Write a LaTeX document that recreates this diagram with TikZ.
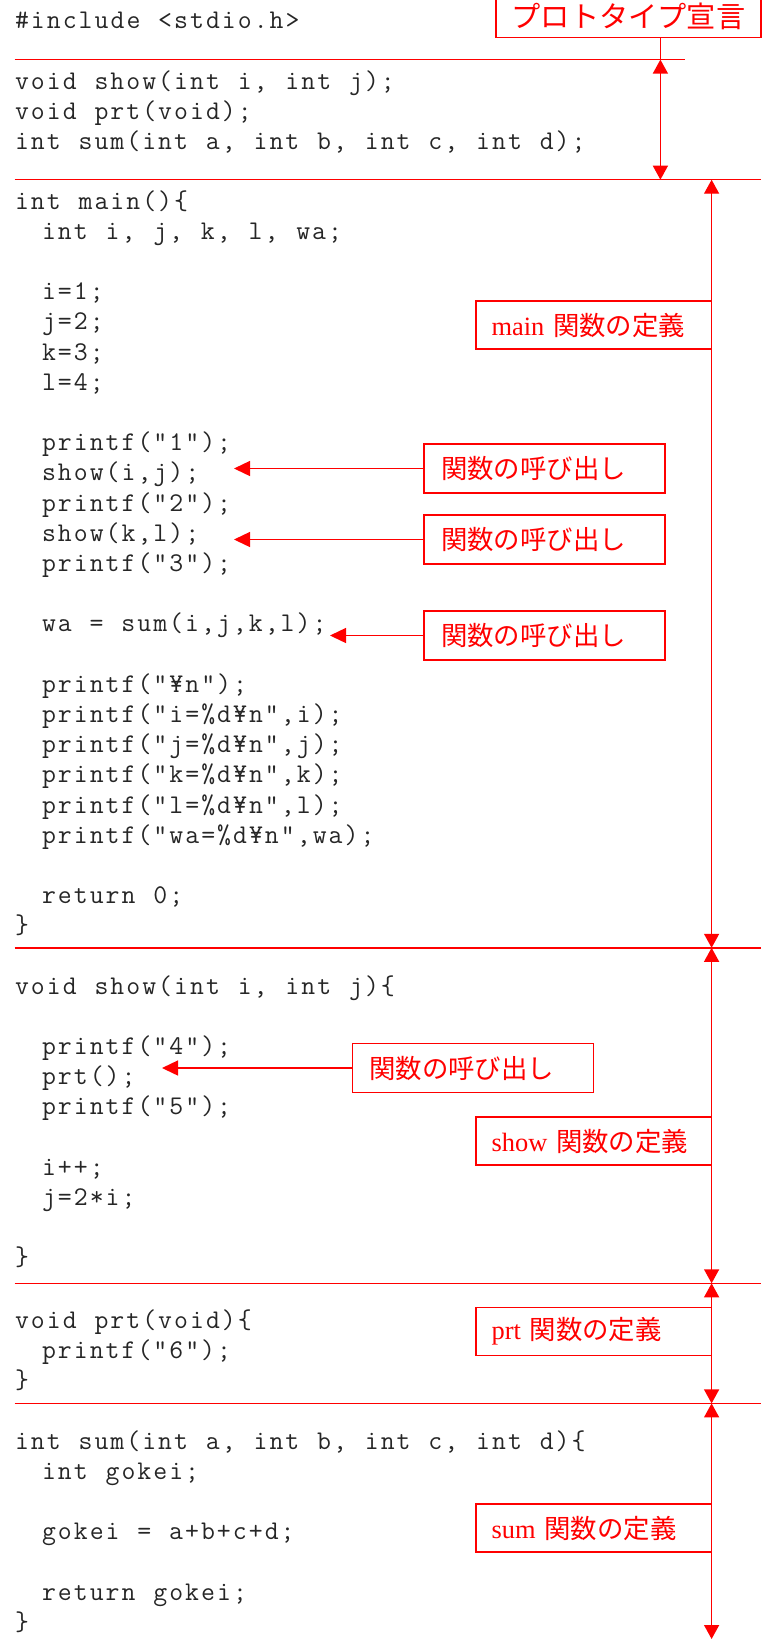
\documentclass[tikz,border=0pt]{standalone}
\usepackage{fontspec}
\setmainfont{Liberation Serif}
\newfontfamily\codefont{Latin Modern Mono}[LetterSpace=7.5,WordSpace=1.12]
\newfontfamily\jpfont{Noto Sans CJK JP}
\usetikzlibrary{arrows.meta, positioning, calc}

\newcommand{\ind}{\hspace*{13.5pt}}

\begin{document}
\begin{tikzpicture}[x=0.5pt,y=-0.5pt,
  code/.style={anchor=base west,inner sep=0pt,align=left,text=black!85,font=\codefont\fontsize{13.5pt}{15.1pt}\selectfont},
  sep/.style={red,line width=0.7pt},
  defbox/.style={draw=red,line width=0.7pt,text=red,font=\fontsize{13.2pt}{15pt}\selectfont,text width=102pt,inner xsep=7.9pt,minimum height=24pt,align=left},
  callbox/.style={draw=red,line width=0.7pt,text=red,font=\jpfont\fontsize{13.2pt}{15pt}\selectfont,text width=103.5pt,inner xsep=8.5pt,minimum height=24.5pt,align=left},
  arr/.style={-{Triangle[length=8pt,width=7.5pt]},red,line width=0.7pt},
  dbl/.style={{Triangle[length=7pt,width=7.5pt]}-{Triangle[length=7pt,width=7.5pt]},red,line width=0.7pt}]
  \useasboundingbox (0,0) rectangle (765,1639);

  \node[code] (inc) at (14.6,28) {\#include <stdio.h>};
  \node[code] (proto-code) at (14.6,149.4) {void show(int i, int j);\\void prt(void);\\int sum(int a, int b, int c, int d);};
  \node[code] (main-code) at (14.6,933.8) {int main()\{\\
    \ind int i, j, k, l, wa;\\
    \mbox{}\\
    \ind i=1;\\
    \ind j=2;\\
    \ind k=3;\\
    \ind l=4;\\
    \mbox{}\\
    \ind printf("1");\\
    \ind show(i,j);\\
    \ind printf("2");\\
    \ind show(k,l);\\
    \ind printf("3");\\
    \mbox{}\\
    \ind wa = sum(i,j,k,l);\\
    \mbox{}\\
    \ind printf("¥n");\\
    \ind printf("i=\%d¥n",i);\\
    \ind printf("j=\%d¥n",j);\\
    \ind printf("k=\%d¥n",k);\\
    \ind printf("l=\%d¥n",l);\\
    \ind printf("wa=\%d¥n",wa);\\
    \mbox{}\\
    \ind return 0;\\
    \}};
  \node[code] (show-code) at (14.6,1265.8) {void show(int i, int j)\{\\
    \mbox{}\\
    \ind printf("4");\\
    \ind prt();\\
    \ind printf("5");\\
    \mbox{}\\
    \ind i++;\\
    \ind j=2*i;\\
    \mbox{}\\
    \}};
  \node[code] (prt-code) at (14.6,1388.4) {void prt(void)\{\\
    \ind printf("6");\\
    \}};
  \node[code] (sum-code) at (14.6,1630.2) {int sum(int a, int b, int c, int d)\{\\
    \ind int gokei;\\
    \mbox{}\\
    \ind gokei = a+b+c+d;\\
    \mbox{}\\
    \ind return gokei;\\
    \}};

  \draw[sep] (14.6,59.6) -- (684.5,59.6);
  \foreach \y in {179.7,947.8,1283.3,1403.4}{\draw[sep] (14.6,\y) -- (761,\y);}

  \coordinate (p1) at (660.4,59.6);
  \coordinate (p2) at (660.4,179.7);
  \coordinate (m1) at (711.6,179.7);
  \coordinate (m2) at (711.6,947.8);
  \coordinate (m3) at (711.6,1283.3);
  \coordinate (m4) at (711.6,1403.4);
  \coordinate (m5) at (711.6,1639);

  \node[draw=red,line width=0.7pt,text=red,font=\jpfont\fontsize{14.6pt}{16pt}\selectfont,minimum width=132.5pt,minimum height=21.6pt,inner ysep=1pt] (proto) at (628.5,16) {プロトタイプ宣言};
  \draw[sep] (proto.south -| p1) -- (p1);
  \draw[dbl] (p1) -- (p2);
  \foreach \a/\b in {m1/m2,m2/m3,m3/m4,m4/m5}{\draw[dbl] (\a) -- (\b);}

  \node[defbox] (d-main) at (593.6,325) {main {\jpfont 関数の定義}};
  \node[defbox] (d-show) at (593.6,1141) {show {\jpfont 関数の定義}};
  \node[defbox] (d-prt) at (593.6,1331.5) {prt {\jpfont 関数の定義}};
  \node[defbox] (d-sum) at (593.6,1528) {sum {\jpfont 関数の定義}};

  \node[callbox] (c1) at (544.5,468.5) {関数の呼び出し};
  \node[callbox] (c2) at (544.5,539.5) {関数の呼び出し};
  \node[callbox] (c3) at (544.5,635.5) {関数の呼び出し};
  \node[callbox] (c4) at (472.8,1068) {関数の呼び出し};
  \coordinate (t1) at (234,468.5);
  \coordinate (t2) at (234,539.5);
  \coordinate (t3) at (330,635.5);
  \coordinate (t4) at (162,1068);
  \foreach \x/\y in {c1/t1,c2/t2,c3/t3,c4/t4}{\draw[arr] (\x) -- (\y);}
\end{tikzpicture}
\end{document}
